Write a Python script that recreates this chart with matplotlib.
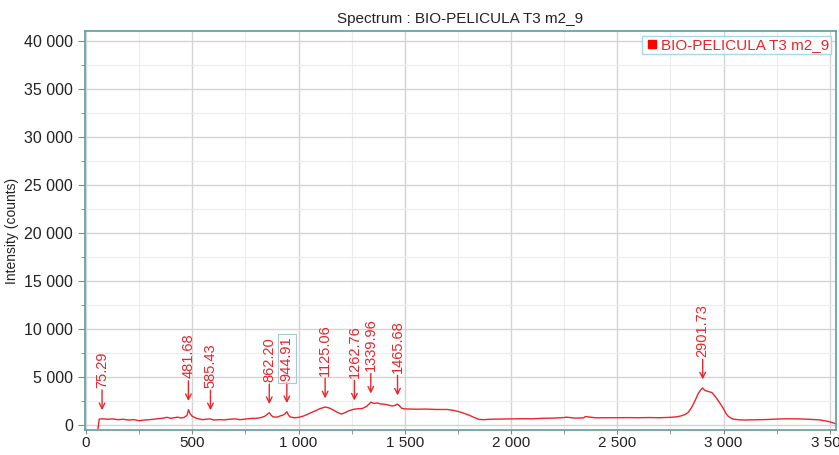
import matplotlib.pyplot as plt
from matplotlib.ticker import MultipleLocator, FuncFormatter

plt.rcParams['font.family'] = ['Liberation Sans', 'DejaVu Sans']

# spectrum (Raman shift, counts)
shift = [56, 62, 80, 100, 125, 150, 175, 200, 225, 250, 275, 300, 325, 350, 365, 380, 400,
         415, 430, 445, 460, 475, 482, 490, 500, 520, 535, 550, 570, 585, 600, 625, 650,
         675, 700, 725, 750, 775, 800, 820, 840, 852, 862, 872, 880, 900, 915, 925, 935,
         945, 952, 960, 980, 1000, 1025, 1050, 1065, 1080, 1100, 1112, 1125, 1140, 1150,
         1165, 1180, 1200, 1215, 1230, 1245, 1262, 1280, 1300, 1320, 1330, 1340, 1355, 1370,
         1385, 1400, 1420, 1440, 1455, 1465, 1475, 1485, 1500, 1550, 1600, 1650, 1700,
         1725, 1750, 1775, 1800, 1825, 1850, 1875, 1900, 1950, 2000, 2050, 2100, 2150, 2200,
         2250, 2260, 2300, 2340, 2350, 2400, 2450, 2500, 2550, 2600, 2650, 2700, 2750, 2780,
         2800, 2820, 2835, 2850, 2865, 2880, 2892, 2901, 2910, 2920, 2935, 2945, 2960, 2970,
         2985, 3000, 3010, 3020, 3035, 3050, 3075, 3100, 3150, 3200, 3250, 3300, 3350, 3400,
         3450, 3480, 3500, 3530]
counts = [-400, 620, 650, 600, 640, 560, 600, 520, 560, 450, 520, 560, 620, 680, 720, 800, 700,
          760, 820, 740, 780, 1000, 1600, 1150, 900, 700, 620, 560, 620, 640, 520, 560, 540,
          600, 640, 560, 620, 680, 700, 760, 900, 1100, 1280, 1000, 850, 820, 960, 1020, 1150,
          1380, 1050, 850, 750, 800, 950, 1200, 1350, 1480, 1700, 1780, 1880, 1800, 1720,
          1550, 1350, 1150, 1250, 1420, 1550, 1650, 1700, 1720, 1950, 2150, 2380, 2250, 2300,
          2200, 2180, 2100, 1980, 2050, 2180, 2000, 1750, 1680, 1650, 1660, 1620, 1620,
          1540, 1420, 1250, 1050, 800, 580, 560, 600, 620, 640, 660, 650, 700, 720,
          780, 820, 720, 740, 880, 750, 760, 780, 770, 760, 780, 760, 800, 860,
          950, 1100, 1350, 1850, 2500, 3250, 3650, 3850, 3650, 3550, 3450, 3380, 3000, 2700,
          2200, 1700, 1250, 950, 720, 600, 540, 520, 540, 570, 620, 650, 640, 600,
          540, 430, 330, 120]

peak_pos = [75.29, 481.68, 585.43, 862.20, 944.91, 1125.06, 1262.76, 1339.96, 1465.68, 2901.73]
peak_height = [650, 1600, 640, 1280, 1380, 1880, 1650, 2380, 2180, 3850]

red = '#e8262b'
teal = '#5a9e9e'

fig = plt.figure(figsize=(8.39, 4.55), dpi=100)
ax = fig.add_axes([0.1013, 0.0549, 0.8951, 0.877])

ax.plot(shift, counts, color=red, lw=1.0, label='BIO-PELICULA T3 m2_9')

for px, ph in zip(peak_pos, peak_height):
    tip = ph + 900
    tail = tip + 2100
    ax.annotate('', xy=(px, tip), xytext=(px, tail),
                arrowprops=dict(arrowstyle='->', color=red, lw=1.0,
                                shrinkA=0, shrinkB=0))
    box = None
    if px == 944.91:
        box = dict(boxstyle='square,pad=0.15', fc='none', ec='#a9c8d0', lw=0.8)
    ax.text(px, tail + 250, f'{px:.2f}', rotation=90, ha='center', va='bottom',
            color=red, fontsize=10.5, bbox=box)

ax.set_xlim(-5, 3529)
ax.set_ylim(-520, 41040)

ax.xaxis.set_major_locator(MultipleLocator(500))
ax.xaxis.set_minor_locator(MultipleLocator(250))
ax.yaxis.set_major_locator(MultipleLocator(5000))
ax.yaxis.set_minor_locator(MultipleLocator(2500))
fmt = FuncFormatter(lambda v, p: f'{int(v):,}'.replace(',', ' '))
ax.xaxis.set_major_formatter(fmt)
ax.yaxis.set_major_formatter(fmt)

ax.grid(which='major', color='#d4d4d4', lw=1.0)
ax.grid(which='minor', color='#ececec', lw=0.8)
ax.set_axisbelow(True)

ax.tick_params(which='both', colors='#888888', labelcolor='#222222')
ax.tick_params(axis='y', labelsize=11.5)
ax.tick_params(axis='x', labelsize=11, pad=1.5)
ax.tick_params(which='major', length=5)
ax.tick_params(which='minor', length=3)
ax.tick_params(axis='x', which='both', length=3)

for s in ax.spines.values():
    s.set_color(teal)
    s.set_linewidth(1.2)

ax.set_ylabel('Intensity (counts)', fontsize=10, color='#222222')
ax.set_title('Spectrum : BIO-PELICULA T3 m2_9', fontsize=11, color='#222222', pad=6)

leg = ax.legend(loc='upper right', handles=[plt.Line2D([], [], marker='s', ls='none',
                color='red', markersize=6)],
                labels=['BIO-PELICULA T3 m2_9'], fontsize=11, frameon=True,
                fancybox=False, borderpad=0.15, handletextpad=0.1, handlelength=1.0,
                borderaxespad=0.3)
leg.get_frame().set_edgecolor('#8fd0e6')
leg.get_frame().set_linewidth(1.0)
for t in leg.get_texts():
    t.set_color(red)

fig.savefig('out.png', dpi=100)
